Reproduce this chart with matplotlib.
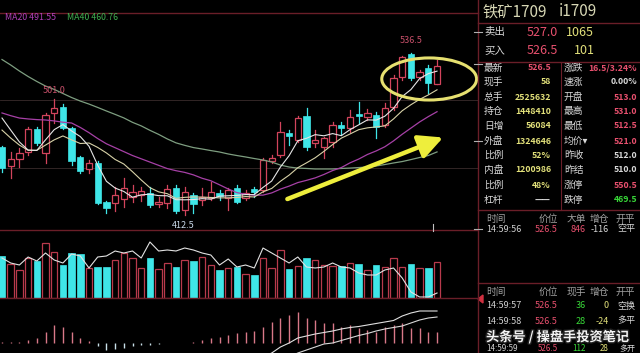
import matplotlib
matplotlib.use("Agg")
import matplotlib.pyplot as plt
from matplotlib.patches import Rectangle, Ellipse, Polygon
import matplotlib.patheffects as pe

plt.rcParams['font.family'] = ['Noto Sans CJK SC', 'DejaVu Sans']

# ---------------- daily bars (iron ore 1709) ----------------
opens = [464.5, 450.0, 455.3, 460.7, 478.3, 460.0, 490.6, 495.2, 479.0, 456.9,
         447.7, 452.3, 422.4, 421.6, 424.7, 426.2, 427.8, 429.3, 420.9, 421.6,
         433.1, 416.3, 427.8, 424.0, 425.5, 429.3, 425.5, 433.1, 425.5, 432.4,
         431.6, 454.0, 458.4, 475.3, 469.9, 488.2, 467.6, 464.5, 468.3, 481.4,
         479.0, 489.8, 487.5, 489.0, 481.4, 495.2, 518.2, 535.7, 518.2, 525.0,
         513.0]
highs = [465.5, 460.7, 463.8, 479.8, 479.5, 490.6, 501.0, 497.4, 480.0, 458.0,
         454.6, 454.0, 423.0, 434.0, 440.8, 435.4, 434.0, 434.0, 426.0, 435.4,
         435.4, 434.0, 429.3, 433.0, 437.7, 432.0, 433.0, 435.4, 432.0, 434.0,
         456.1, 458.4, 483.7, 477.5, 488.2, 494.4, 477.5, 472.2, 483.7, 483.7,
         492.9, 499.0, 493.7, 491.0, 498.0, 519.7, 534.2, 536.5, 523.5, 527.3,
         531.0]
lows = [445.4, 440.8, 449.2, 458.4, 466.0, 452.3, 482.9, 478.0, 450.7, 444.6,
        444.6, 420.9, 414.0, 415.5, 418.6, 422.4, 423.0, 418.6, 418.6, 417.8,
        414.0, 412.5, 414.0, 420.0, 424.0, 424.0, 416.0, 421.6, 424.0, 426.0,
        430.1, 452.3, 456.9, 466.0, 468.3, 462.2, 464.5, 456.1, 464.5, 473.7,
        476.0, 483.0, 485.0, 471.4, 480.0, 492.9, 515.8, 515.8, 515.8, 505.9,
        512.5]
closes = [448.5, 455.3, 459.9, 478.3, 467.6, 489.0, 494.4, 479.0, 453.8, 446.2,
          452.3, 421.6, 417.8, 427.8, 433.1, 430.1, 430.8, 420.1, 422.4, 432.4,
          415.5, 430.1, 420.9, 426.2, 430.1, 427.0, 431.6, 422.4, 429.3, 430.1,
          454.6, 456.0, 476.0, 473.0, 486.7, 464.5, 469.9, 471.4, 481.4, 479.0,
          487.5, 488.2, 490.6, 480.0, 494.4, 517.4, 533.4, 517.4, 522.0, 513.5,
          526.5]

ma5 = [486.7, 477.5, 468.4, 462.2, 461.9, 470.0, 477.8, 481.7, 476.8, 472.5,
       465.1, 450.6, 438.3, 433.1, 430.5, 426.1, 427.9, 428.4, 427.3, 427.2,
       424.2, 424.1, 424.3, 425.0, 424.6, 426.9, 427.2, 427.5, 428.1, 428.1,
       433.6, 438.5, 449.2, 457.9, 469.3, 471.2, 474.0, 473.1, 474.8, 473.2,
       477.8, 481.5, 485.3, 485.1, 488.1, 494.1, 503.2, 508.5, 516.9, 520.7,
       522.6]
ma10 = [477.5, 471.4, 466.0, 462.0, 462.0, 466.0, 470.0, 473.0, 470.0, 467.2,
        467.6, 464.2, 460.0, 455.0, 451.5, 445.6, 439.3, 433.4, 430.2, 428.8,
        425.2, 426.0, 426.3, 426.2, 425.9, 425.6, 425.6, 425.9, 426.6, 426.3,
        430.2, 432.8, 438.3, 443.0, 448.7, 452.4, 456.3, 461.2, 466.4, 471.3,
        474.5, 477.8, 479.2, 479.9, 480.7, 486.0, 492.3, 496.9, 501.0, 504.4,
        508.3]
ma20 = [490.6, 488.5, 486.7, 486.0, 485.5, 485.2, 484.5, 483.5, 482.9, 479.5,
        475.5, 471.0, 467.0, 464.0, 461.0, 458.0, 455.5, 453.0, 450.5, 448.0,
        446.4, 445.1, 443.2, 440.6, 438.7, 435.6, 432.4, 429.6, 428.4, 427.6,
        427.7, 429.4, 432.3, 434.6, 437.3, 439.0, 440.9, 443.5, 446.5, 448.8,
        452.4, 455.3, 458.8, 461.5, 464.7, 469.2, 474.3, 479.0, 483.7, 487.8,
        491.55]
ma40 = [531.5, 527.3, 522.7, 518.5, 514.7, 511.2, 508.6, 505.5, 502.4, 499.7,
        497.4, 494.8, 492.1, 489.5, 486.8, 483.4, 480.7, 477.3, 474.2, 470.7,
        467.7, 465.8, 464.1, 463.0, 461.8, 460.7, 459.2, 458.0, 456.9, 455.7,
        454.6, 453.0, 450.7, 449.2, 448.4, 448.1, 447.7, 447.7, 447.7, 448.1,
        448.4, 448.8, 449.2, 450.0, 451.1, 452.3, 453.4, 454.9, 456.5, 458.0,
        460.76]

# volume (10k lots) and open interest (10k lots)
volume = [294, 238, 196, 280, 259, 385, 322, 231, 315, 308,
          210, 217, 217, 266, 315, 280, 210, 280, 203, 245,
          217, 266, 259, 287, 231, 196, 210, 217, 168, 161,
          280, 210, 336, 203, 224, 280, 266, 231, 224, 224,
          245, 238, 196, 231, 217, 280, 217, 238, 210, 210,
          252.6]
open_interest = [165.8, 162.8, 161.6, 166.4, 164.0, 168.8, 164.6, 162.8, 168.2, 167.0,
                 159.8, 166.4, 167.0, 170.0, 168.8, 170.0, 165.8, 175.4, 170.0, 170.6,
                 170.0, 171.8, 170.6, 168.8, 167.6, 161.6, 165.2, 160.4, 161.6, 159.8,
                 171.8, 168.8, 165.8, 162.8, 166.4, 160.4, 159.8, 160.4, 162.8, 160.4,
                 159.8, 156.8, 155.6, 155.6, 158.6, 159.8, 153.8, 145.4, 142.4, 142.4,
                 144.8]

# MACD histogram and signal lines (DIF / DEA shown from bar 30 onward)
macd = [1, 1, 1, 3, 5, 11, 18, 16, 11, 5,
        2, -3, -7, -6, -5, -3, -2, -1.5, -0.5, 0.3,
        0.3, 0.5, 1.5, 3.5, 5, 6.5, 8, 10, 11.5, 12,
        16, 21, 25, 28, 31, 25, 23, 20, 20, 16,
        18, 15, 13, 11, 16, 18, 20, 15, 15, 11,
        11]
dif_start = 30
dif = [-14, -10, -4, 0, 5, 7, 9, 10.5, 12, 14, 15.5,
       16.5, 18, 19.5, 21, 22.5, 27, 30, 32, 32, 32]
dea = [-22, -19, -17, -14, -10, -7, -4, -1, 0, 2.5, 5,
       7.5, 9.5, 12, 14, 15.5, 17, 20, 23, 25, 26]

# ---------------- colours ----------------
BG = '#000000'
RED = '#d2445c'
CYAN = '#3fe6e8'
FRAME = '#6a1e28'
WHITE = '#d8d8d8'
YEL = '#e2e07a'
PRED = '#e8506e'
GRN = '#38d838'

W, H = 640, 353


def box(x0, y0, x1, y1):
    return [x0 / W, 1 - y1 / H, (x1 - x0) / W, (y1 - y0) / H]


fig = plt.figure(figsize=(W / 100, H / 100), dpi=100, facecolor=BG)

n = len(closes)
idx = list(range(n))
XLIM = (-0.23, 54.71)


def clean(ax):
    ax.set_facecolor(BG)
    ax.set_xticks([])
    ax.set_yticks([])
    for s in ax.spines.values():
        s.set_visible(False)
    ax.set_xlim(*XLIM)


# ---------------- price panel ----------------
ax_p = fig.add_axes(box(0, 13, 478, 230))
clean(ax_p)
ax_p.set_ylim(401.0, 567.1)
for gy in (500.5, 448.4):
    ax_p.axhline(gy, color='#3a2c2c', lw=0.6, zorder=0)

bw = 0.72
for i in idx:
    o, h, l, c = opens[i], highs[i], lows[i], closes[i]
    up = c >= o
    col = RED if up else CYAN
    lo, hi = min(o, c), max(o, c)
    if hi - lo < 0.7:
        hi = lo + 0.7
    ax_p.plot([i, i], [l, h], color=col, lw=0.9, zorder=2)
    if up:
        ax_p.add_patch(Rectangle((i - bw / 2, lo), bw, hi - lo, facecolor=BG,
                                 edgecolor=col, lw=0.9, zorder=3))
    else:
        ax_p.add_patch(Rectangle((i - bw / 2, lo), bw, hi - lo, facecolor=col,
                                 edgecolor=col, lw=0.5, zorder=3))

ax_p.plot(idx, ma40, color='#7e9e80', lw=0.9, zorder=4)
ax_p.plot(idx, ma20, color='#a640a6', lw=0.9, zorder=4)
ax_p.plot(idx, ma10, color='#d8d2a8', lw=0.8, zorder=4)
ax_p.plot(idx, ma5, color='#e6e6e6', lw=0.8, zorder=4)

# high / low markers
ax_p.annotate('536.5', xy=(47, 536.5), xytext=(0, 6), textcoords='offset points',
              ha='center', va='bottom', color='#c8506a', fontsize=6.5, zorder=6)
ax_p.annotate('501.0', xy=(6, 501.0), xytext=(0, 3), textcoords='offset points',
              ha='center', va='bottom', color='#c8506a', fontsize=6.5, zorder=6)
ax_p.annotate('412.5', xy=(21, 412.5), xytext=(-1, -4), textcoords='offset points',
              ha='center', va='top', color='#c8d8e8', fontsize=6.5, zorder=6)

# highlight of the latest bars and the trend arrow
ax_p.add_patch(Ellipse((49.1, 516.6), 10.9, 32.2, fill=False, edgecolor='#e6e070',
                       lw=2.2, zorder=7))
ax_p.annotate('', xy=(50.7, 471.8), xytext=(32.8, 424.7),
              arrowprops=dict(arrowstyle='-|>,head_length=0.9,head_width=0.45',
                              color='#eeee3c', lw=3.2, mutation_scale=16,
                              shrinkA=0, shrinkB=0), zorder=7)

# ---------------- volume panel ----------------
ax_v = fig.add_axes(box(0, 230, 478, 298))
clean(ax_v)
ax_v.set_ylim(0, 476)
vw = 0.75
for i in idx:
    if closes[i] >= opens[i]:
        ax_v.bar(i, volume[i], vw, facecolor=BG, edgecolor='#b83a4c', lw=0.9)
    else:
        ax_v.bar(i, volume[i], vw, facecolor=CYAN, edgecolor=CYAN, lw=0.5)
ax_oi = ax_v.twinx()
clean(ax_oi)
ax_oi.set_ylim(141.8, 182.6)
ax_oi.plot(idx, open_interest, color='#e2e2e2', lw=0.8)

# ---------------- MACD panel ----------------
ax_m = fig.add_axes(box(0, 298, 478, 353))
clean(ax_m)
ax_m.set_ylim(-10, 45)
ax_m.vlines(idx, 0, macd, colors=['#d87888' if v >= 0 else '#c8e0e8' for v in macd],
            lw=1.0)
ax_m.plot(idx[dif_start:], dif, color='#e0e0e0', lw=0.8)
ax_m.plot(idx[dif_start:], dea, color='#d8d8d8', lw=0.8)

# ---------------- overlay in pixel coordinates ----------------
ov = fig.add_axes([0, 0, 1, 1])
ov.set_xlim(0, W)
ov.set_ylim(H, 0)
ov.axis('off')
ov.patch.set_alpha(0)

for y in (13, 230, 298):
    ov.plot([0, 478], [y, y], color=FRAME, lw=1.0)
ov.plot([478, 478], [0, H], color=FRAME, lw=1.0)
for y in (23, 62, 210, 283):
    ov.plot([478, W], [y, y], color=FRAME, lw=1.0)
ov.plot([561, 561], [62, 210], color=FRAME, lw=0.8)
for y in (32, 64, 141, 229):
    ov.plot([474, 482], [y, y], color='#b0b0b0', lw=0.8)
ov.plot([433, 433], [224, 231], color='#c0c0c0', lw=0.8)
ov.add_patch(Polygon([[478, 299], [483, 295], [483, 303]], closed=True,
                     color='#d03040'))

ov.text(5, 18, 'MA20 491.55', color='#b040b8', fontsize=6.3, va='center')
ov.text(67, 18, 'MA40 460.76', color='#40b050', fontsize=6.3, va='center')

# quote header
ov.text(483, 12, '铁矿1709', color='#d6d6b4', fontsize=11, va='center')
ov.text(559, 12, 'i1709', color='#d6d6b4', fontsize=11, va='center')
ov.text(484, 32, '卖出', color=WHITE, fontsize=7.5, va='center')
ov.text(558, 32, '527.0', color=PRED, fontsize=9, va='center', ha='right')
ov.text(566, 32, '1065', color=YEL, fontsize=9, va='center')
ov.text(484, 51, '买入', color=WHITE, fontsize=7.5, va='center')
ov.text(558, 51, '526.5', color=PRED, fontsize=9, va='center', ha='right')
ov.text(574, 51, '101', color=YEL, fontsize=9, va='center')

left_labels = ['最新', '现手', '总手', '持仓', '日增', '外盘', '比例', '内盘', '比例', '杠杆']
left_values = ['526.5', '58', '2525632', '1448410', '56084', '1324646', '52%',
               '1200986', '48%', '——']
left_colors = [PRED, YEL, YEL, YEL, YEL, YEL, YEL, YEL, YEL, WHITE]
right_labels = ['涨跌', '速涨', '开盘', '最高', '最低', '均价▾', '昨收', '昨结', '涨停', '跌停']
right_values = ['16.5/3.24%', '0.00%', '513.0', '531.0', '512.5', '521.0',
                '512.0', '510.0', '550.5', '469.5']
right_colors = [PRED, WHITE, PRED, PRED, PRED, PRED, WHITE, WHITE, PRED, GRN]
row_y = [68, 82, 97, 111, 126, 141, 155, 170, 185, 200]
for k, y in enumerate(row_y):
    ov.text(484, y, left_labels[k], color=WHITE, fontsize=7, va='center')
    ov.text(551, y, left_values[k], color=left_colors[k], fontsize=6.3,
            va='center', ha='right', fontweight='bold')
    ov.text(564, y, right_labels[k], color=WHITE, fontsize=7, va='center')
    ov.text(637, y, right_values[k], color=right_colors[k], fontsize=6.3,
            va='center', ha='right', fontweight='bold')

# tick tables
GREY = '#a0a0a0'
cols_x = [486, 558, 586, 609, 635]


def table_row(y, cells, colors, size=6.5):
    ov.text(cols_x[0], y, cells[0], color=colors[0], fontsize=size, va='center')
    for x, t, c in zip(cols_x[1:], cells[1:], colors[1:]):
        ov.text(x, y, t, color=c, fontsize=size, va='center', ha='right')


table_row(219, ['时间', '价位', '大单', '增仓', '开平'], [GREY] * 5, 7)
table_row(229, ['14:59:56', '526.5', '846', '-116', '空平'],
          ['#d0d0d0', PRED, PRED, WHITE, WHITE])
table_row(292, ['时间', '价位', '现手', '增仓', '开平'], [GREY] * 5, 7)
table_row(306, ['14:59:57', '526.5', '36', '0', '空换'],
          ['#d0d0d0', PRED, GRN, YEL, WHITE])
table_row(321, ['14:59:58', '526.5', '28', '-24', '多平'],
          ['#d0d0d0', PRED, GRN, YEL, WHITE])
table_row(348.5, ['14:59:59', '526.5', '112', '28', '多开'],
          ['#d0d0d0', PRED, GRN, YEL, WHITE], 5.8)

ov.text(486, 337, '头条号 / 操盘手投资笔记', color='#f4f4f4', fontsize=9.5,
        fontweight='bold', va='center',
        path_effects=[pe.withStroke(linewidth=2, foreground='#202020')])

fig.savefig('out.png', dpi=100, facecolor=BG)
